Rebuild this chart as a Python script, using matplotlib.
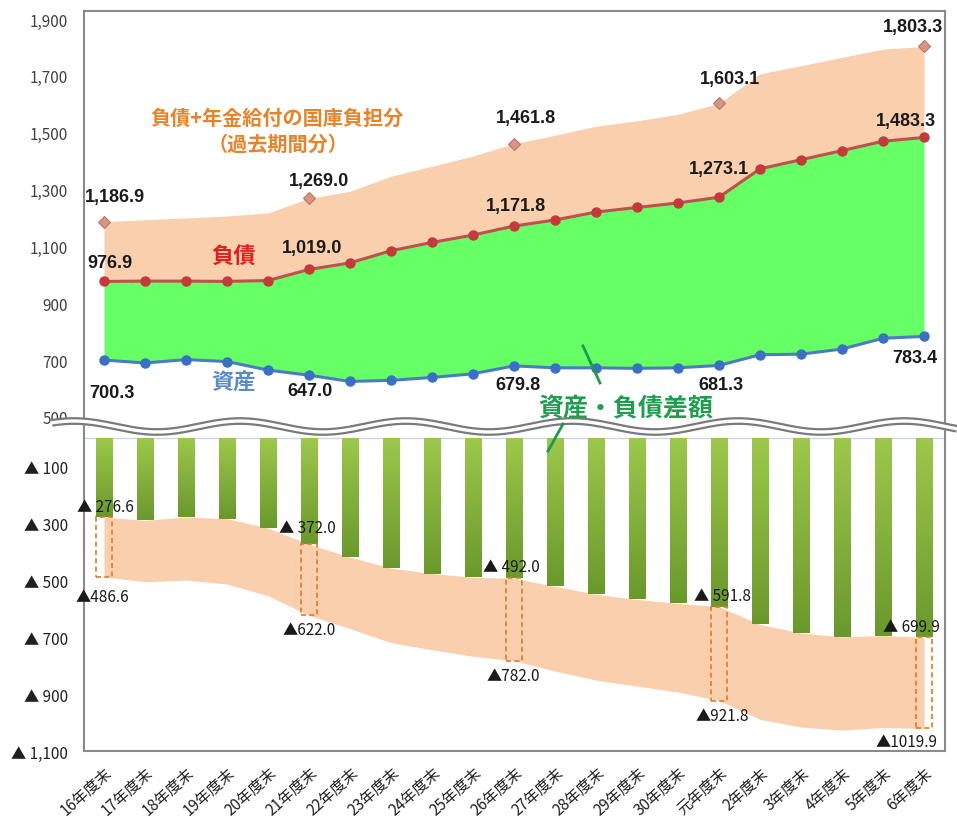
import matplotlib
matplotlib.use('Agg')
import matplotlib.pyplot as plt
import numpy as np

plt.rcParams['font.family'] = ['Noto Sans CJK JP', 'DejaVu Sans']

# fiscal year ends (平成16年度末 ... 令和6年度末)
years = ['16年度末', '17年度末', '18年度末', '19年度末', '20年度末', '21年度末',
         '22年度末', '23年度末', '24年度末', '25年度末', '26年度末', '27年度末',
         '28年度末', '29年度末', '30年度末', '元年度末', '2年度末', '3年度末',
         '4年度末', '5年度末', '6年度末']

# 負債 (兆円)
liabilities = [976.9, 978.0, 978.0, 977.0, 980.0, 1019.0, 1042.0, 1085.0, 1114.0, 1140.0,
               1171.8, 1193.0, 1221.0, 1237.0, 1253.0, 1273.1, 1373.0, 1405.0, 1437.0,
               1470.0, 1483.3]
# 資産 (兆円)
assets = [700.3, 690.0, 702.0, 695.0, 665.0, 647.0, 625.0, 629.0, 639.0, 652.0,
          679.8, 673.0, 673.0, 671.0, 673.0, 681.3, 719.0, 721.0, 739.0, 777.0, 783.4]
# 年金給付の国庫負担分 (過去期間分)
pension_share = [210.0, 216.0, 222.0, 230.0, 238.0, 250.0, 252.0, 262.0, 268.0, 278.0,
                 290.0, 298.0, 302.0, 305.0, 312.0, 330.0, 334.0, 331.0, 328.0, 324.0, 320.0]

labelled = [0, 5, 10, 15, 20]

x = np.arange(len(years))
liab = np.array(liabilities)
asst = np.array(assets)
pens = np.array(pension_share)
total = liab + pens
gap = liab - asst
gap_total = gap + pens

peach = '#F9CFAE'
frame = '#8A8A8A'
num_font = ['Liberation Sans', 'DejaVu Sans']

W, H = 957, 829
fig = plt.figure(figsize=(W / 100, H / 100), dpi=100)
fig.patch.set_facecolor('white')

left = 83.5 / W
width = 861 / W
scale = 398 / 1400  # px per unit

# ---- upper panel: assets / liabilities ----
ax = fig.add_axes([left, 1 - 430 / H, width, 418 / H])
ax.fill_between(x, liab, total, color=peach, lw=0, zorder=1)
ax.fill_between(x, asst, liab, color='#66FF66', lw=0, zorder=1)
ax.plot(x, liab, color='#C0504D', lw=2.2, marker='o', ms=6.5,
        mfc='#C43A3A', mec='#C43A3A', zorder=3)
ax.plot(x, asst, color='#4A7CC4', lw=2.2, marker='o', ms=6.5,
        mfc='#3A6FC4', mec='#3A6FC4', zorder=3)
ax.plot(x[labelled], total[labelled], ls='none', marker='D', ms=6,
        mfc='#D9957F', mec='#B8766A', mew=0.8, zorder=3)

tot_off = [(11, 25), (10, 18), (12, 26), (11, 25), (-11, 20)]
liab_off = [(6, 19), (3, 22), (2, 21), (0, 29), (-18, 17)]
asst_off = [(8, -32), (1, -15), (4, -19), (2, -19), (-9, -21)]
for k, i in enumerate(labelled):
    for vals, off in ((total, tot_off), (liab, liab_off), (asst, asst_off)):
        ax.annotate(f'{vals[i]:,.1f}', (x[i], vals[i]), xytext=off[k],
                    textcoords='offset pixels', ha='center', va='center',
                    fontsize=13, fontweight='bold', family=num_font,
                    color='#1A1A1A', zorder=5)

ax.set_xlim(-0.5, 20.5)
ax.set_ylim(500 - 12 / scale, 1900 + 8 / scale)
ax.set_xticks([])
top_ticks = list(range(500, 2000, 200))
ax.set_yticks(top_ticks)
ax.set_yticklabels([f'{t:,}' for t in top_ticks], fontsize=11, color='#404040')
ax.tick_params(axis='y', length=0, pad=11)
for s in ('left', 'top', 'right'):
    ax.spines[s].set_color(frame)
    ax.spines[s].set_linewidth(1.5)
ax.spines['bottom'].set_visible(False)

# ---- lower panel: gap between assets and liabilities ----
bx = fig.add_axes([left, 1 - 752.2 / H, width, 322.2 / H])
bx.fill_between(x, -gap, -gap_total, color=peach, lw=0, zorder=1)

bar_w = 0.41
grad = np.linspace(0, 1, 256).reshape(-1, 1)
bar_cmap = matplotlib.colors.LinearSegmentedColormap.from_list('bar', ['#9DC84C', '#6A982C'])
for i in x:
    bx.imshow(grad, cmap=bar_cmap, aspect='auto', interpolation='bicubic',
              extent=(i - bar_w / 2, i + bar_w / 2, -gap[i], 0), zorder=2)

for i in labelled:
    bx.add_patch(plt.Rectangle((i - bar_w / 2, -gap_total[i]), bar_w, pens[i],
                               fill=False, ec='#E87722', ls=(0, (3, 2)), lw=1.2, zorder=3))

up_off = [(1, 11), (-2, 17), (-3, 12), (3, 11), (-13, 11)]
down_off = [(-2, -20), (0, -14), (-1, -15), (3, -15), (-17, -13)]
for k, i in enumerate(labelled):
    bx.annotate(f'▲ {gap[i]:.1f}', (x[i], -gap[i]), xytext=up_off[k],
                textcoords='offset pixels', ha='center', va='center',
                fontsize=11, color='#1A1A1A', zorder=5)
    bx.annotate(f'▲{gap_total[i]:.1f}', (x[i], -gap_total[i]), xytext=down_off[k],
                textcoords='offset pixels', ha='center', va='center',
                fontsize=11, color='#1A1A1A', zorder=5)

bx.axhline(0, color='#C8D8F0', lw=1, zorder=1)
bx.set_xlim(-0.5, 20.5)
bx.set_ylim(-1100, 9.5 / scale)
bot_ticks = list(range(100, 1200, 200))
bx.set_yticks([-t for t in bot_ticks])
bx.set_yticklabels([f'▲ {t:,}' for t in bot_ticks], fontsize=11, color='#202020')
bx.set_xticks(x)
bx.set_xticklabels(years, rotation=42, ha='right', va='top',
                   rotation_mode='anchor', fontsize=11, color='#202020')
bx.tick_params(axis='y', length=0, pad=11)
bx.tick_params(axis='x', length=0, pad=9)
for s in ('left', 'bottom', 'right'):
    bx.spines[s].set_color(frame)
    bx.spines[s].set_linewidth(1.5)
bx.spines['top'].set_visible(False)

# ---- overlay in pixel coordinates: break mark, captions ----
ov = fig.add_axes([0, 0, 1, 1], zorder=10)
ov.set_xlim(0, W)
ov.set_ylim(H, 0)
ov.axis('off')
ov.patch.set_alpha(0)

wx = np.linspace(52, W, 600)
wy = 427.5 - 5.5 * np.cos(2 * np.pi * (wx - 240) / 166)
ov.plot(wx, wy, color='#7A7A7A', lw=5.6, solid_capstyle='butt')
ov.plot(wx, wy, color='white', lw=2.4, solid_capstyle='butt')

ov.text(277, 118, '負債+年金給付の国庫負担分', ha='center', va='center',
        fontsize=14.5, fontweight='bold', color='#E8832A')
ov.text(278, 144, '（過去期間分）', ha='center', va='center',
        fontsize=14.5, fontweight='bold', color='#E8832A')
ov.text(233, 257, '負債', ha='center', va='center', fontsize=16,
        fontweight='bold', color='#E0201E')
ov.text(233, 383, '資産', ha='center', va='center', fontsize=16,
        fontweight='bold', color='#5B8AC6')
ov.text(626, 409, '資産・負債差額', ha='center', va='center', fontsize=18,
        fontweight='bold', color='#1E9E4E')
ov.plot([583, 600], [347, 384], color='#1E9A50', lw=2)
ov.plot([563, 548], [425, 452], color='#1E9A50', lw=2)

fig.savefig('out.png', dpi=100)
